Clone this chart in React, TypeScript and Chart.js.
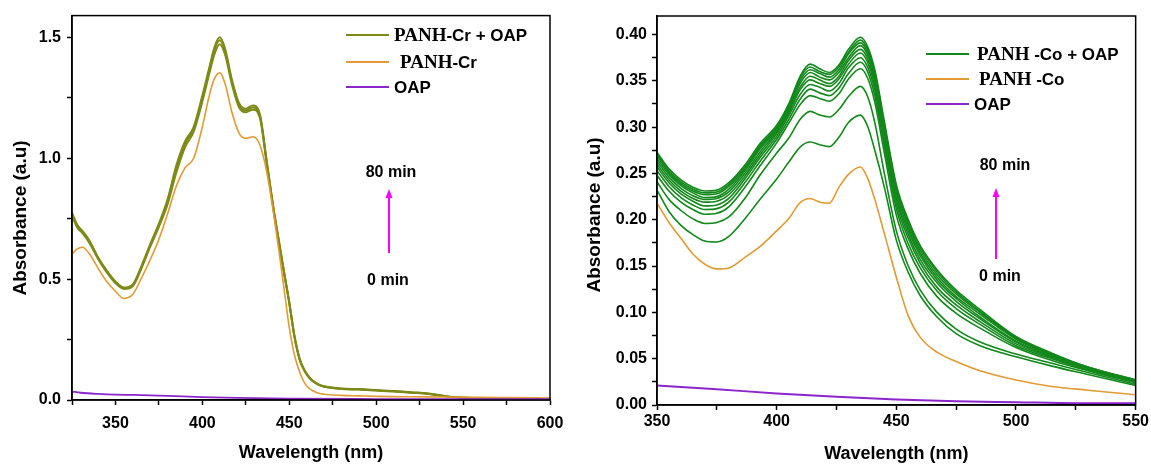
import React, { useEffect, useRef } from 'react';
import { Chart, registerables } from 'chart.js';
Chart.register(...registerables);

const SANS = "'Liberation Sans', Arial, sans-serif";
const SERIF = "'Liberation Serif', 'Times New Roman', serif";

const OLIVE = '#7e8a18';
const ORANGE = '#e29a32';
const PURPLE = '#8c25cc';
const GREEN = '#12881a';
const MAGENTA = '#ff00ff';

// ---------- Left panel (PANH-Cr) ----------
const crWavelength = [325, 328, 331, 335, 340, 345, 350, 355, 360, 365, 370, 375, 380, 385, 390, 395, 400, 404, 407, 410, 413, 417, 421, 425, 429, 433, 437, 441, 444, 447, 450, 453, 456, 459, 462, 466, 470, 480, 490, 500, 510, 520, 530, 540, 550, 560, 575, 600];
const crOapA = [0.775, 0.725, 0.700, 0.660, 0.590, 0.535, 0.490, 0.465, 0.478, 0.555, 0.645, 0.730, 0.830, 0.970, 1.070, 1.130, 1.260, 1.375, 1.460, 1.500, 1.455, 1.325, 1.230, 1.205, 1.218, 1.185, 0.990, 0.790, 0.660, 0.530, 0.405, 0.265, 0.170, 0.120, 0.090, 0.068, 0.057, 0.048, 0.045, 0.041, 0.037, 0.032, 0.027, 0.016, 0.010, 0.006, 0.004, 0.003];
const crOapB = [0.768, 0.720, 0.695, 0.655, 0.587, 0.532, 0.487, 0.462, 0.475, 0.550, 0.640, 0.724, 0.822, 0.958, 1.060, 1.122, 1.250, 1.365, 1.450, 1.488, 1.445, 1.318, 1.222, 1.198, 1.210, 1.178, 0.985, 0.787, 0.657, 0.528, 0.403, 0.263, 0.168, 0.119, 0.089, 0.067, 0.056, 0.047, 0.044, 0.040, 0.036, 0.031, 0.026, 0.015, 0.009, 0.006, 0.004, 0.003];
const crOapC = [0.762, 0.714, 0.690, 0.650, 0.583, 0.528, 0.483, 0.459, 0.471, 0.545, 0.634, 0.716, 0.810, 0.940, 1.045, 1.110, 1.235, 1.350, 1.432, 1.472, 1.430, 1.305, 1.212, 1.190, 1.201, 1.170, 0.978, 0.782, 0.652, 0.524, 0.400, 0.260, 0.166, 0.117, 0.088, 0.066, 0.055, 0.046, 0.043, 0.039, 0.035, 0.030, 0.025, 0.015, 0.009, 0.005, 0.004, 0.003];
const crOnly = [0.603, 0.625, 0.632, 0.605, 0.545, 0.490, 0.450, 0.420, 0.437, 0.505, 0.580, 0.665, 0.770, 0.885, 0.960, 1.000, 1.130, 1.260, 1.330, 1.353, 1.310, 1.190, 1.105, 1.082, 1.089, 1.057, 0.945, 0.770, 0.620, 0.460, 0.300, 0.185, 0.115, 0.068, 0.045, 0.030, 0.024, 0.019, 0.017, 0.015, 0.014, 0.0135, 0.013, 0.0125, 0.012, 0.011, 0.010, 0.008];
const oapCrWavelength = [325, 330, 340, 350, 360, 380, 400, 420, 450, 500, 550, 600];
const oapCr = [0.035, 0.030, 0.025, 0.022, 0.021, 0.017, 0.012, 0.009, 0.006, 0.004, 0.003, 0.003];

// ---------- Right panel (PANH-Co) ----------
const coWavelength = [350, 355, 360, 365, 370, 375, 380, 387, 393, 400, 405, 410, 414, 418, 422, 426, 430, 435, 438, 441, 445, 450, 455, 460, 467, 475, 485, 500, 515, 530, 550];
const coOap01 = [0.232, 0.209, 0.194, 0.184, 0.177, 0.176, 0.182, 0.202, 0.222, 0.244, 0.262, 0.279, 0.284, 0.281, 0.279, 0.289, 0.305, 0.313, 0.301, 0.275, 0.235, 0.178, 0.143, 0.118, 0.095, 0.077, 0.064, 0.052, 0.042, 0.033, 0.021];
const coOap02 = [0.241, 0.222, 0.210, 0.201, 0.196, 0.197, 0.203, 0.224, 0.248, 0.272, 0.288, 0.309, 0.317, 0.313, 0.311, 0.319, 0.333, 0.344, 0.333, 0.305, 0.250, 0.188, 0.150, 0.124, 0.100, 0.082, 0.068, 0.055, 0.045, 0.035, 0.0225];
const coOap03 = [0.248, 0.231, 0.219, 0.211, 0.206, 0.207, 0.214, 0.236, 0.258, 0.283, 0.304, 0.325, 0.334, 0.331, 0.328, 0.336, 0.352, 0.363, 0.353, 0.327, 0.272, 0.205, 0.168, 0.142, 0.117, 0.099, 0.083, 0.062, 0.048, 0.037, 0.024];
const coOap04 = [0.253, 0.236, 0.224, 0.216, 0.211, 0.212, 0.219, 0.241, 0.263, 0.287, 0.308, 0.331, 0.341, 0.337, 0.334, 0.342, 0.358, 0.370, 0.360, 0.334, 0.279, 0.212, 0.174, 0.148, 0.123, 0.104, 0.087, 0.064, 0.050, 0.038, 0.025];
const coOap05 = [0.257, 0.240, 0.228, 0.220, 0.215, 0.216, 0.223, 0.245, 0.267, 0.290, 0.312, 0.336, 0.346, 0.343, 0.339, 0.347, 0.364, 0.375, 0.365, 0.340, 0.284, 0.217, 0.180, 0.153, 0.127, 0.108, 0.090, 0.066, 0.051, 0.038, 0.025];
const coOap06 = [0.260, 0.243, 0.231, 0.223, 0.219, 0.220, 0.227, 0.248, 0.270, 0.293, 0.315, 0.341, 0.351, 0.347, 0.344, 0.352, 0.368, 0.380, 0.370, 0.345, 0.289, 0.222, 0.184, 0.157, 0.132, 0.112, 0.093, 0.068, 0.052, 0.039, 0.0255];
const coOap07 = [0.263, 0.246, 0.234, 0.226, 0.222, 0.223, 0.230, 0.251, 0.273, 0.295, 0.317, 0.344, 0.355, 0.351, 0.347, 0.355, 0.372, 0.384, 0.374, 0.349, 0.293, 0.225, 0.188, 0.161, 0.135, 0.115, 0.095, 0.069, 0.053, 0.039, 0.026];
const coOap08 = [0.266, 0.249, 0.237, 0.229, 0.224, 0.225, 0.233, 0.254, 0.276, 0.297, 0.319, 0.348, 0.359, 0.354, 0.351, 0.359, 0.375, 0.388, 0.378, 0.353, 0.297, 0.229, 0.191, 0.164, 0.138, 0.117, 0.098, 0.071, 0.054, 0.040, 0.026];
const coOap09 = [0.269, 0.251, 0.239, 0.231, 0.227, 0.228, 0.236, 0.256, 0.278, 0.299, 0.321, 0.351, 0.362, 0.358, 0.354, 0.362, 0.379, 0.391, 0.381, 0.356, 0.300, 0.232, 0.195, 0.167, 0.141, 0.120, 0.100, 0.072, 0.055, 0.040, 0.0265];
const coOap10 = [0.271, 0.253, 0.241, 0.233, 0.229, 0.230, 0.238, 0.258, 0.280, 0.300, 0.323, 0.354, 0.365, 0.360, 0.357, 0.365, 0.381, 0.394, 0.384, 0.359, 0.303, 0.235, 0.197, 0.170, 0.144, 0.122, 0.101, 0.073, 0.055, 0.041, 0.027];
const coOap11 = [0.273, 0.255, 0.243, 0.235, 0.231, 0.232, 0.240, 0.260, 0.282, 0.302, 0.325, 0.356, 0.368, 0.363, 0.359, 0.367, 0.384, 0.397, 0.387, 0.362, 0.306, 0.238, 0.200, 0.172, 0.146, 0.124, 0.103, 0.074, 0.056, 0.041, 0.027];
const coOnly = [0.218, 0.197, 0.180, 0.163, 0.152, 0.147, 0.148, 0.160, 0.171, 0.188, 0.201, 0.219, 0.223, 0.219, 0.218, 0.235, 0.249, 0.257, 0.245, 0.222, 0.185, 0.138, 0.096, 0.073, 0.057, 0.047, 0.037, 0.027, 0.020, 0.016, 0.011];
const oapCoWavelength = [350, 375, 400, 425, 450, 475, 500, 525, 550];
const oapCo = [0.021, 0.017, 0.0125, 0.009, 0.006, 0.004, 0.003, 0.002, 0.002];

const coOapSeries = [coOap01, coOap02, coOap03, coOap04, coOap05, coOap06, coOap07, coOap08, coOap09, coOap10, coOap11];

const pts = (xs: number[], ys: number[]) => xs.map((x, i) => ({ x, y: ys[i] }));

type LegendEntry = { color: string; y: number; x1: number; x2: number; tx: number; parts: [string, 'serif' | 'sans'][] };
type Overlay = {
  legend: LegendEntry[];
  arrowX: number; arrowTop: number; arrowBottom: number;
  topLabel: [number, number]; bottomLabel: [number, number];
  yTitle: [number, number];
};

function overlayPlugin(o: Overlay) {
  return {
    id: 'overlay',
    afterDraw(chart: any) {
      const ctx: CanvasRenderingContext2D = chart.ctx;
      const a = chart.chartArea;
      ctx.save();
      ctx.strokeStyle = '#000';
      ctx.lineWidth = 1.5;
      ctx.strokeRect(a.left, a.top, a.right - a.left, a.bottom - a.top);
      for (const e of o.legend) {
        ctx.strokeStyle = e.color;
        ctx.lineWidth = 2;
        ctx.beginPath();
        ctx.moveTo(e.x1, e.y);
        ctx.lineTo(e.x2, e.y);
        ctx.stroke();
        let x = e.tx;
        ctx.fillStyle = '#000';
        ctx.textAlign = 'left';
        ctx.textBaseline = 'alphabetic';
        for (const [t, kind] of e.parts) {
          ctx.font = kind === 'serif' ? `bold 19px ${SERIF}` : `bold 17px ${SANS}`;
          ctx.fillText(t, x, e.y + 6);
          x += ctx.measureText(t).width;
        }
      }
      // arrow
      ctx.strokeStyle = MAGENTA;
      ctx.fillStyle = MAGENTA;
      ctx.lineWidth = 2;
      ctx.beginPath();
      ctx.moveTo(o.arrowX, o.arrowBottom);
      ctx.lineTo(o.arrowX, o.arrowTop + 7);
      ctx.stroke();
      ctx.beginPath();
      ctx.moveTo(o.arrowX, o.arrowTop);
      ctx.lineTo(o.arrowX - 3.5, o.arrowTop + 9);
      ctx.lineTo(o.arrowX + 3.5, o.arrowTop + 9);
      ctx.closePath();
      ctx.fill();
      ctx.fillStyle = '#000';
      ctx.font = `bold 16px ${SANS}`;
      ctx.textAlign = 'center';
      ctx.textBaseline = 'middle';
      ctx.fillText('80 min', o.topLabel[0], o.topLabel[1]);
      ctx.fillText('0 min', o.bottomLabel[0], o.bottomLabel[1]);
      // y title
      ctx.save();
      ctx.translate(o.yTitle[0], o.yTitle[1]);
      ctx.rotate(-Math.PI / 2);
      ctx.font = `bold 19px ${SANS}`;
      ctx.fillText('Absorbance (a.u)', 0, 0);
      ctx.restore();
      ctx.restore();
    },
  };
}

const tickFont = { family: SANS, size: 16, weight: 'bold' as const };
const gridOpts = { display: true, drawOnChartArea: false, drawTicks: true, tickLength: 5, tickColor: '#000', tickWidth: 1.5 };

function line(data: { x: number; y: number }[], color: string, width: number) {
  return {
    data,
    borderColor: color,
    backgroundColor: color,
    borderWidth: width,
    pointRadius: 0,
    cubicInterpolationMode: 'monotone' as const,
    fill: false,
  };
}

function leftConfig(): any {
  return {
    type: 'line',
    data: {
      datasets: [
        line(pts(oapCrWavelength, oapCr), PURPLE, 1.8),
        line(pts(crWavelength, crOnly), ORANGE, 1.6),
        line(pts(crWavelength, crOapC), OLIVE, 2),
        line(pts(crWavelength, crOapB), OLIVE, 2),
        line(pts(crWavelength, crOapA), OLIVE, 2),
      ],
    },
    options: {
      responsive: false,
      animation: false,
      layout: { padding: { left: 0, right: 30, top: 13, bottom: 0 } },
      plugins: { legend: { display: false }, tooltip: { enabled: false } },
      scales: {
        x: {
          type: 'linear', min: 325, max: 600,
          afterFit: (s: any) => { s.height = 65; },
          grid: gridOpts,
          border: { display: true, color: '#000', width: 1.5 },
          ticks: {
            stepSize: 25, autoSkip: false, maxRotation: 0, includeBounds: false,
            padding: 9, color: '#000', font: tickFont,
            callback: (v: number) => (v % 50 === 0 ? String(v) : ''),
          },
          title: { display: true, text: 'Wavelength (nm)', color: '#000', font: { family: SANS, size: 18, weight: 'bold' }, padding: { top: 0, bottom: 1 } },
        },
        y: {
          type: 'linear', min: 0, max: 1.59,
          afterFit: (s: any) => { s.width = 72; },
          grid: gridOpts,
          border: { display: true, color: '#000', width: 1.5 },
          ticks: {
            stepSize: 0.25, autoSkip: false, includeBounds: false,
            padding: 6, color: '#000', font: tickFont,
            callback: (v: number) => { const r = Math.round(v * 2) / 2; return Math.abs(v - r) < 1e-6 ? v.toFixed(1) : ''; },
          },
        },
      },
    },
    plugins: [overlayPlugin({
      legend: [
        { color: OLIVE, y: 35, x1: 346, x2: 389, tx: 394, parts: [['PANH', 'serif'], ['-Cr + OAP', 'sans']] },
        { color: ORANGE, y: 62, x1: 346, x2: 389, tx: 400, parts: [['PANH', 'serif'], ['-Cr', 'sans']] },
        { color: PURPLE, y: 87, x1: 346, x2: 389, tx: 394, parts: [['OAP', 'sans']] },
      ],
      arrowX: 389, arrowTop: 189, arrowBottom: 253,
      topLabel: [391, 173], bottomLabel: [388, 281],
      yTitle: [21, 218],
    })],
  };
}

function rightConfig(): any {
  const greens = coOapSeries.map((s) => line(pts(coWavelength, s), GREEN, 1.6));
  return {
    type: 'line',
    data: {
      datasets: [
        line(pts(oapCoWavelength, oapCo), PURPLE, 2),
        line(pts(coWavelength, coOnly), ORANGE, 1.6),
        ...greens,
      ],
    },
    options: {
      responsive: false,
      animation: false,
      layout: { padding: { left: 0, right: 15, top: 16, bottom: 0 } },
      plugins: { legend: { display: false }, tooltip: { enabled: false } },
      scales: {
        x: {
          type: 'linear', min: 350, max: 550,
          afterFit: (s: any) => { s.height = 60; },
          grid: gridOpts,
          border: { display: true, color: '#000', width: 1.5 },
          ticks: {
            stepSize: 25, autoSkip: false, maxRotation: 0, includeBounds: false,
            padding: 2, color: '#000', font: tickFont,
            callback: (v: number) => (v % 50 === 0 ? String(v) : ''),
          },
          title: { display: true, text: 'Wavelength (nm)', color: '#000', font: { family: SANS, size: 18, weight: 'bold' }, padding: { top: 0, bottom: 0 } },
        },
        y: {
          type: 'linear', min: 0, max: 0.42,
          afterFit: (s: any) => { s.width = 77; },
          grid: gridOpts,
          border: { display: true, color: '#000', width: 1.5 },
          ticks: {
            stepSize: 0.025, autoSkip: false, includeBounds: false,
            padding: 5, color: '#000', font: tickFont,
            callback: (v: number) => { const r = Math.round(v * 20) / 20; return Math.abs(v - r) < 1e-6 ? v.toFixed(2) : ''; },
          },
        },
      },
    },
    plugins: [overlayPlugin({
      legend: [
        { color: GREEN, y: 54, x1: 346, x2: 389, tx: 397, parts: [['PANH', 'serif'], [' -Co + OAP', 'sans']] },
        { color: ORANGE, y: 79, x1: 346, x2: 389, tx: 399, parts: [['PANH', 'serif'], [' -Co', 'sans']] },
        { color: PURPLE, y: 104, x1: 346, x2: 389, tx: 394, parts: [['OAP', 'sans']] },
      ],
      arrowX: 416, arrowTop: 188, arrowBottom: 259,
      topLabel: [425, 166], bottomLabel: [420, 277],
      yTitle: [15, 215],
    })],
  };
}

function Panel({ left, width, height, config }: { left: number; width: number; height: number; config: () => any }) {
  const ref = useRef<HTMLCanvasElement>(null);
  useEffect(() => {
    if (!ref.current) return;
    const chart = new Chart(ref.current, config());
    return () => chart.destroy();
  }, []);
  return (
    <div style={{ position: 'absolute', left, top: 0, width, height }}>
      <canvas ref={ref} width={width} height={height} style={{ display: 'block', width, height }} />
    </div>
  );
}

export default function App() {
  return (
    <div style={{ position: 'absolute', left: 0, top: 0, width: 1151, height: 465, background: '#fff', overflow: 'hidden' }}>
      <Panel left={0} width={580} height={465} config={leftConfig} />
      <Panel left={580} width={571} height={465} config={rightConfig} />
    </div>
  );
}
